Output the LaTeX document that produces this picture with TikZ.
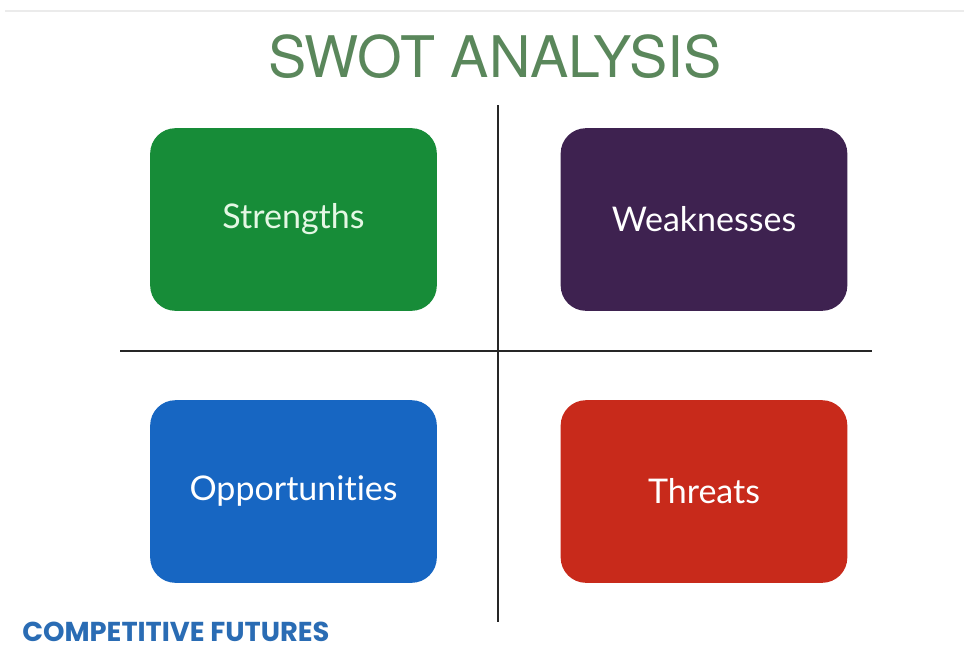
\documentclass[tikz,border=0pt]{standalone}
\usepackage{fontspec}
\setmainfont[Ligatures={NoCommon}]{Lato}
\newfontfamily\titlefont{TeX Gyre Heros}
\newfontfamily\brandfont{Poppins}
\definecolor{swotgreen}{HTML}{178C38}
\definecolor{swotpurple}{HTML}{3E2250}
\definecolor{swotblue}{HTML}{1766C2}
\definecolor{swotred}{HTML}{C82A1B}
\definecolor{titlegreen}{HTML}{5A875B}
\definecolor{brandblue}{HTML}{2A6CB4}
\definecolor{strtext}{HTML}{E4F7E4}
\begin{document}
\begin{tikzpicture}[x=0.75pt,y=-0.75pt,
  quad/.style={rounded corners=19pt, minimum width=215pt, minimum height=137pt, inner sep=0pt, text=white, font=\fontsize{25.5}{30}\selectfont},
  axis/.style={line width=1.1pt, draw=black!85}]
\useasboundingbox (0,0) rectangle (964,651);
\fill[white] (0,0) rectangle (964,651);
\coordinate (tl) at (5,11);
\coordinate (tr) at (964,11);
\draw[black!8, line width=1.5pt] (tl) -- (tr);
\node[text=titlegreen, font=\titlefont\fontsize{43}{48}\selectfont] (title) at (495,57) {SWOT ANALYSIS};
\coordinate (vt) at (498,105);
\coordinate (vb) at (498,622);
\coordinate (hl) at (120,351);
\coordinate (hr) at (872,351);
\draw[axis] (vt) -- (vb);
\draw[axis] (hl) -- (hr);
\node[quad, fill=swotgreen, text=strtext] (s) at (293.5,219.5) {Strengths};
\node[quad, fill=swotpurple] (w) at (704,219.5) {Weaknesses};
\node[quad, fill=swotblue] (o) at (293.5,491.5) {Opportunities};
\node[quad, fill=swotred] (t) at (704,491.5) {Threats};
\node[anchor=base west, text=brandblue, font=\brandfont\bfseries\fontsize{20.5}{24}\selectfont, inner sep=0pt] (brand) at (22,641) {COMPETITIVE FUTURES};
\end{tikzpicture}
\end{document}
